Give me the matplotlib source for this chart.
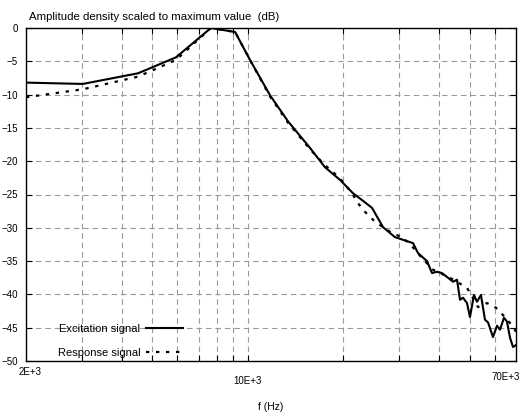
import matplotlib
matplotlib.use('Agg')
import matplotlib.pyplot as plt
from matplotlib.ticker import NullFormatter, FixedLocator

plt.rcParams.update({
    'font.family': ['Liberation Sans', 'DejaVu Sans'],
    'font.size': 7,
})

# Excitation signal (solid), frequency in Hz and level in dB
exc_f = [2000, 3020, 4510, 5940, 7650, 9120, 10160, 11750, 13380, 15700,
         17500, 18420, 19520, 21440, 22560, 24620, 26670, 29080, 33160, 34380,
         36690, 38060, 39460, 40920, 42740, 44320, 45620, 46620, 47640, 49050,
         50120, 51600, 52740, 54290, 55890, 57140, 59240, 60990, 62330, 64160,
         65580, 67020, 68500, 70000]
exc_db = [-8.2, -8.4, -6.8, -4.4, 0.0, -0.6, -4.8, -10.1, -14.0, -18.0,
          -20.9, -21.8, -22.8, -24.8, -25.6, -27.0, -29.9, -31.4, -32.3, -33.8,
          -35.0, -36.8, -36.6, -36.8, -37.5, -38.1, -37.8, -40.8, -40.5, -41.3,
          -43.4, -40.1, -41.1, -40.1, -43.8, -44.2, -46.4, -44.7, -45.3, -43.5,
          -44.1, -46.5, -47.9, -47.6]

# Response signal (dotted)
resp_f = [2000, 3020, 4510, 5940, 7650, 9120, 10160, 11750, 13380, 15700,
          17500, 18420, 19520, 21300, 22240, 23400, 24800, 26670, 28460, 30610,
          32690, 34880, 38340, 43350, 49050, 53130, 56720, 60540, 63690, 67020,
          70000]
resp_db = [-10.4, -9.2, -7.3, -4.8, 0.0, -0.6, -4.8, -10.3, -14.2, -18.2,
           -20.6, -21.5, -22.6, -24.8, -26.3, -27.6, -28.8, -29.9, -30.8, -31.4,
           -32.6, -34.2, -36.3, -37.5, -39.0, -41.9, -41.3, -42.0, -43.1, -44.3,
           -45.6]

grid_f = [3000, 4000, 5000, 6000, 7000, 8000, 9000, 10000,
          20000, 30000, 40000, 50000, 60000]
y_ticks = [0, -5, -10, -15, -20, -25, -30, -35, -40, -45, -50]
x_labels = [(2000, '2E+3', 4, -11), (10000, '10E+3', 0, -20), (70000, '70E+3', -10, -16)]

fig = plt.figure(figsize=(5.22, 4.13), dpi=100)
ax = fig.add_axes([26 / 522, 1 - 361 / 413, 490 / 522, 333 / 413])

ax.plot(exc_f, exc_db, color='black', lw=1.5, label='Excitation signal')
ax.plot(resp_f, resp_db, color='black', lw=1.6, dashes=(1.5, 3),
        label='Response signal')

ax.set_xscale('log')
ax.set_xlim(2000, 70000)
ax.set_ylim(-50, 0)

ax.xaxis.set_major_locator(FixedLocator(grid_f))
ax.xaxis.set_minor_locator(FixedLocator([]))
ax.xaxis.set_major_formatter(NullFormatter())
ax.xaxis.set_minor_formatter(NullFormatter())
ax.set_yticks(y_ticks)

ax.tick_params(direction='in', length=4, width=0.8, top=True, right=True,
               labelsize=7, pad=6)
ax.grid(True, color='#9a9a9a', lw=0.8, dashes=(5, 3.5))
for s in ax.spines.values():
    s.set_linewidth(1.0)

for f, lab, dx, dy in x_labels:
    ax.annotate(lab, xy=(f, 0), xycoords=('data', 'axes fraction'),
                xytext=(dx, dy), textcoords='offset pixels',
                ha='center', va='center', fontsize=7)

ax.set_xlabel('f (Hz)', fontsize=7.5, va='center')
ax.xaxis.set_label_coords(0.5, -0.138)

fig.text(29 / 522, 1 - 17 / 413, 'Amplitude density scaled to maximum value  (dB)',
         ha='left', va='center', fontsize=8.2)

ax.legend(loc='lower left', bbox_to_anchor=(0.065, 0.01), frameon=False,
          markerfirst=False, fontsize=8, handlelength=3.3, handletextpad=0.5,
          labelspacing=1.25, borderpad=0, borderaxespad=0)

fig.savefig('out.png', dpi=100)
